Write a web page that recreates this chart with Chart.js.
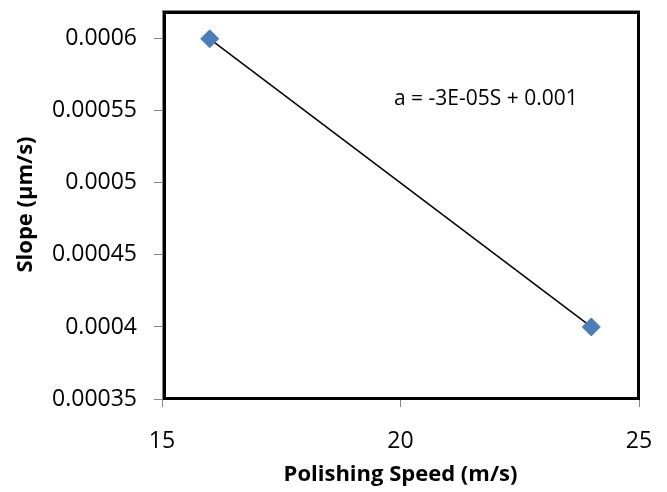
<!DOCTYPE html>
<html>
<head>
<meta charset="utf-8">
<script src="https://cdn.jsdelivr.net/npm/chart.js@4/dist/chart.umd.min.js"></script>
<style>
  html, body { margin: 0; padding: 0; background: #fff; }
  #wrap { width: 667px; height: 492px; }
</style>
</head>
<body>
<div id="wrap"><canvas id="chart" width="667" height="492"></canvas></div>
<script>
// Daten
const geschwindigkeit = [16, 24];
const steigung = [0.0006, 0.0004];
const xTicks = [15, 20, 25];
const yTicks = [0.00035, 0.0004, 0.00045, 0.0005, 0.00055, 0.0006];
const gleichung = "a = -3E-05S + 0.001";

const schrift = "'Open Sans', sans-serif";

const rahmen = {
  id: "rahmen",
  afterDatasetsDraw(chart) {
    const { ctx, chartArea: a, scales } = chart;
    ctx.save();
    ctx.strokeStyle = "#868686";
    ctx.lineWidth = 1;
    ctx.strokeRect(a.left + 0.5, a.top + 0.5, a.right - a.left, a.bottom - a.top);
    ctx.strokeStyle = "#000";
    ctx.lineWidth = 3;
    ctx.strokeRect(a.left + 2.5, a.top + 2.5, a.right - a.left - 3, a.bottom - a.top - 3);
    ctx.fillStyle = "#000";
    ctx.font = "21px " + schrift;
    ctx.textAlign = "center";
    ctx.textBaseline = "middle";
    ctx.fillText(gleichung, scales.x.getPixelForValue(21.79), scales.y.getPixelForValue(0.000558));
    ctx.restore();
  }
};

new Chart(document.getElementById("chart"), {
  type: "scatter",
  data: {
    datasets: [{
      data: geschwindigkeit.map((x, i) => ({ x, y: steigung[i] })),
      showLine: true,
      borderColor: "#000",
      borderWidth: 1.5,
      pointStyle: "rectRot",
      pointRadius: 9,
      pointBackgroundColor: "#4a7ebb",
      pointBorderColor: "#4a7ebb",
      pointBorderWidth: 1
    }]
  },
  options: {
    responsive: false,
    animation: false,
    layout: { padding: { top: 9, right: 28, left: 13, bottom: 4 } },
    plugins: { legend: { display: false }, tooltip: { enabled: false } },
    scales: {
      x: {
        type: "linear",
        min: 15,
        max: 25,
        afterBuildTicks: s => { s.ticks = xTicks.map(v => ({ value: v })); },
        afterFit: s => { s.height = 89; s.paddingLeft = 0; s.paddingRight = 0; },
        grid: { drawOnChartArea: false, color: "#868686", tickLength: 8, tickColor: "#868686" },
        border: { color: "#868686", width: 1 },
        ticks: { color: "#000", font: { family: schrift, size: 23 }, padding: 21 },
        title: { display: true, text: "Polishing Speed (m/s)", color: "#000",
                 font: { family: schrift, size: 22, weight: "bold" }, padding: { top: 0, bottom: 0 } }
      },
      y: {
        type: "linear",
        min: 0.00035,
        max: 0.00062,
        afterBuildTicks: s => { s.ticks = yTicks.map(v => ({ value: v })); },
        afterFit: s => { s.width = 149; s.paddingTop = 0; s.paddingBottom = 0; },
        grid: { drawOnChartArea: false, color: "#868686", tickLength: 8, tickColor: "#868686" },
        border: { color: "#868686", width: 1 },
        ticks: { color: "#000", font: { family: schrift, size: 23 }, padding: 17,
                 callback: v => String(+v.toFixed(5)) },
        title: { display: true, text: "Slope (µm/s)", color: "#000",
                 font: { family: schrift, size: 22, weight: "bold" }, padding: { top: 0, bottom: 0 } }
      }
    }
  },
  plugins: [rahmen]
});
</script>
</body>
</html>
